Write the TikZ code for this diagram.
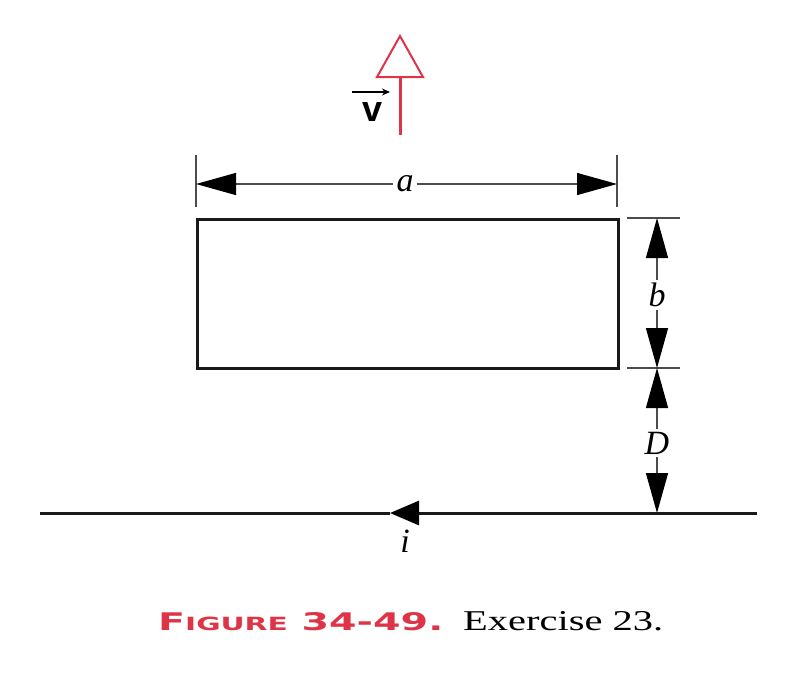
\documentclass[tikz,border=0pt]{standalone}
\usepackage{fontspec}
\setmainfont{Liberation Serif}
\newfontfamily\capfont{DejaVu Sans}
\newfontfamily\vfont{Liberation Sans}
\usetikzlibrary{arrows.meta}
\definecolor{figred}{RGB}{222,52,72}
\begin{document}
\begin{tikzpicture}[x=1pt,y=-1pt,
  dimline/.style={line width=1.3pt, black!70},
  dimtip/.style={-{Triangle[length=40pt,width=22pt,black]}},
  lbl/.style={font=\fontsize{34}{34}\selectfont\itshape, inner sep=3pt},
  thick line/.style={line width=3pt, black!90},
]
\useasboundingbox (0,0) rectangle (808,681);
% loop
\node[draw, line width=3pt, black!90, minimum width=421pt, minimum height=149pt, inner sep=0pt, anchor=north west] (loop) at (196,218) {};
% dimension a
\coordinate (aL) at (196,184);
\coordinate (aR) at (617,184);
\coordinate (aLt) at (196,155);
\coordinate (aLb) at (196,207);
\coordinate (aRt) at (617,155);
\coordinate (aRb) at (617,207);
\draw[dimline] (aLt) -- (aLb);
\draw[dimline] (aRt) -- (aRb);
\node[lbl] (a) at (405,184) {a};
\draw[dimline, dimtip] (a) -- (aL);
\draw[dimline, dimtip] (a) -- (aR);
% dimension b and D
\coordinate (e1a) at (627,218);
\coordinate (e1b) at (680,218);
\coordinate (e2a) at (627,368);
\coordinate (e2b) at (680,368);
\draw[dimline] (e1a) -- (e1b);
\draw[dimline] (e2a) -- (e2b);
\coordinate (bT) at (657,218);
\coordinate (bB) at (657,368);
\coordinate (dB) at (657,513);
\node[lbl] (b) at (657,295) {b};
\draw[dimline, dimtip] (b) -- (bT);
\draw[dimline, dimtip] (b) -- (bB);
\node[lbl] (D) at (657,443) {D};
\draw[dimline, dimtip] (D) -- (bB);
\draw[dimline, dimtip] (D) -- (dB);
% wire
\coordinate (wL) at (40,513);
\coordinate (wR) at (757,513);
\coordinate (wA) at (390,513);
\draw[thick line, -{Triangle[length=29pt,width=24pt,black]}] (wR) -- (wA);
\draw[thick line] (wA) -- (wL);
\node[lbl] (i) at (405,541) {i};
% velocity arrow
\coordinate (vS) at (400,135);
\coordinate (vE) at (400,77);
\coordinate (vTL) at (377,77);
\coordinate (vTR) at (423,77);
\coordinate (vTip) at (400,36);
\draw[figred, line width=3pt] (vS) -- (vE);
\draw[figred, line width=2pt, line join=miter] (vTL) -- (vTip) -- (vTR) -- cycle;
\node[inner sep=0pt] (vl) at (373,112) {\vfont\bfseries\fontsize{36}{36}\selectfont v};
\coordinate (vaL) at (352,92);
\coordinate (vaR) at (390,92);
\draw[line width=1.5pt, -{Stealth[length=8pt,width=7pt]}] (vaL) -- (vaR);
% caption
\node[anchor=base west, inner sep=0pt] (fig) at (158,630) {\resizebox{285pt}{18pt}{\color{figred}\capfont\bfseries\fontsize{20}{20}\selectfont F\fontsize{15}{15}\selectfont IGURE\fontsize{20}{20}\selectfont\ 34-49.}};
\node[anchor=base west, inner sep=0pt] (ex) at (463,630) {\resizebox{200pt}{19pt}{Exercise 23.}};
\end{tikzpicture}
\end{document}
